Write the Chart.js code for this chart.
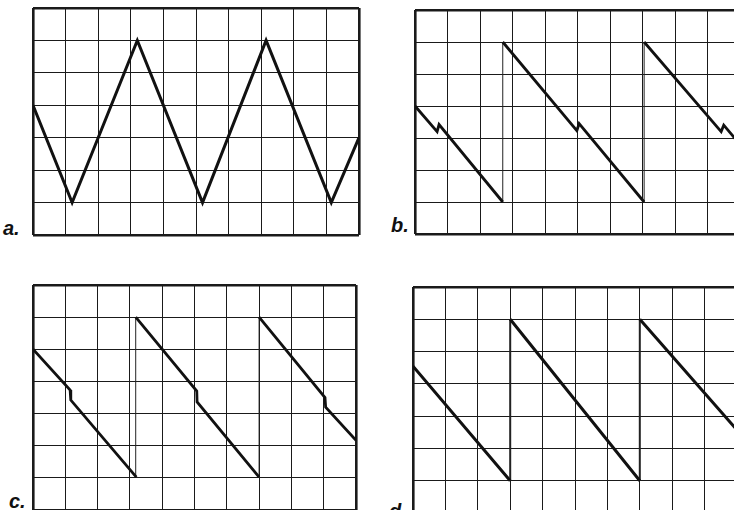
<!DOCTYPE html>
<html>
<head>
<meta charset="utf-8">
<script src="https://cdn.jsdelivr.net/npm/chart.js@4/dist/chart.umd.min.js"></script>
<style>
  html, body { margin:0; padding:0; background:#fff; width:734px; height:510px; overflow:hidden; position:relative; }
  canvas { position:absolute; }
  .lbl { position:absolute; font-family:"Liberation Sans", Arial, sans-serif; font-style:italic; font-weight:bold; font-size:20px; line-height:20px; color:#111; }
</style>
</head>
<body>
<canvas id="ca"></canvas>
<canvas id="cb"></canvas>
<canvas id="cc"></canvas>
<canvas id="cd"></canvas>
<div class="lbl" style="left:3px;top:218px;">a.</div>
<div class="lbl" style="left:391px;top:215px;">b.</div>
<div class="lbl" style="left:9px;top:491px;">c.</div>
<div class="lbl" style="left:389px;top:501px;">d.</div>
<script>
// Graticule: 10 horizontal x 7 vertical divisions
const xDivisions = 10;
const yDivisions = 7;

// Panel a: triangle wave
const aTraceX = [0, 1.2, 3.2, 5.2, 7.15, 9.15, 10];
const aTraceY = [4, 1, 6, 1, 6, 1, 3];
const aRetraceX = [];
const aRetraceY = [];

// Panel b: sawtooth with small upward notch
const bTraceX = [0, 0.68, 0.74, 2.7, null, 2.7, 4.98, 5.05, 7.05, null, 7.05, 9.42, 9.5, 10];
const bTraceY = [4, 3.2, 3.42, 1, null, 6, 3.23, 3.45, 1, null, 6, 3.2, 3.4, 2.8];
const bRetraceX = [2.7, 2.7, null, 7.05, 7.05];
const bRetraceY = [1, 6, null, 1, 6];

// Panel c: sawtooth with small downward step
const cTraceX = [0, 1.15, 1.17, 3.2, null, 3.18, 5.07, 5.08, 7.0, null, 7.0, 9.04, 9.06, 10];
const cTraceY = [5, 3.73, 3.42, 1.02, null, 6, 3.7, 3.36, 1.02, null, 6, 3.5, 3.2, 2.17];
const cRetraceX = [3.18, 3.18, null, 7.0, 7.0];
const cRetraceY = [1.02, 6, null, 1.02, 6];

// Panel d: clean sawtooth
const dTraceX = [0, 3.0, null, 3.0, 7.0, null, 7.0, 10];
const dTraceY = [4.55, 1.0, null, 6, 1.0, null, 6, 2.57];
const dRetraceX = [3.0, 3.0, null, 7.0, 7.0];
const dRetraceY = [1.0, 6, null, 1.0, 6];

function pts(xs, ys) {
  return xs.map((x, i) => (x === null || ys[i] === null) ? {x: NaN, y: null} : {x: x, y: ys[i]});
}

const PAD = 3;
function makePanel(id, left, top, w, h, tx, ty, rx, ry, traceW, retraceW) {
  const cv = document.getElementById(id);
  cv.width = w + 2 * PAD;
  cv.height = h + 2 * PAD;
  cv.style.left = (left - PAD) + 'px';
  cv.style.top = (top - PAD) + 'px';
  cv.style.width = (w + 2 * PAD) + 'px';
  cv.style.height = (h + 2 * PAD) + 'px';
  const edgeWidth = (max) => (ctx) => (ctx.tick && (ctx.tick.value === 0 || ctx.tick.value === max)) ? 2.6 : 1;
  new Chart(cv, {
    type: 'scatter',
    data: {
      datasets: [
        { data: pts(tx, ty), showLine: true, spanGaps: false, borderColor: '#111', borderWidth: traceW,
          pointRadius: 0, borderJoinStyle: 'miter', borderCapStyle: 'butt', tension: 0 },
        { data: pts(rx, ry), showLine: true, spanGaps: false, borderColor: '#222', borderWidth: retraceW,
          pointRadius: 0, tension: 0 }
      ]
    },
    options: {
      responsive: false,
      devicePixelRatio: 1,
      animation: false,
      events: [],
      layout: { padding: PAD },
      plugins: { legend: { display: false }, tooltip: { enabled: false } },
      scales: {
        x: { type: 'linear', min: 0, max: xDivisions,
             ticks: { display: false, stepSize: 1 },
             grid: { color: '#1a1a1a', lineWidth: edgeWidth(xDivisions), drawTicks: false },
             border: { display: false } },
        y: { type: 'linear', min: 0, max: yDivisions,
             ticks: { display: false, stepSize: 1 },
             grid: { color: '#1a1a1a', lineWidth: edgeWidth(yDivisions), drawTicks: false },
             border: { display: false } }
      }
    }
  });
}

makePanel('ca', 33, 8, 326, 227, aTraceX, aTraceY, aRetraceX, aRetraceY, 3, 1);
makePanel('cb', 415, 10, 325, 224, bTraceX, bTraceY, bRetraceX, bRetraceY, 2.8, 1);
makePanel('cc', 33, 285, 323, 225, cTraceX, cTraceY, cRetraceX, cRetraceY, 2.8, 1);
makePanel('cd', 413, 287, 324, 226, dTraceX, dTraceY, dRetraceX, dRetraceY, 3, 2);
</script>
</body>
</html>
